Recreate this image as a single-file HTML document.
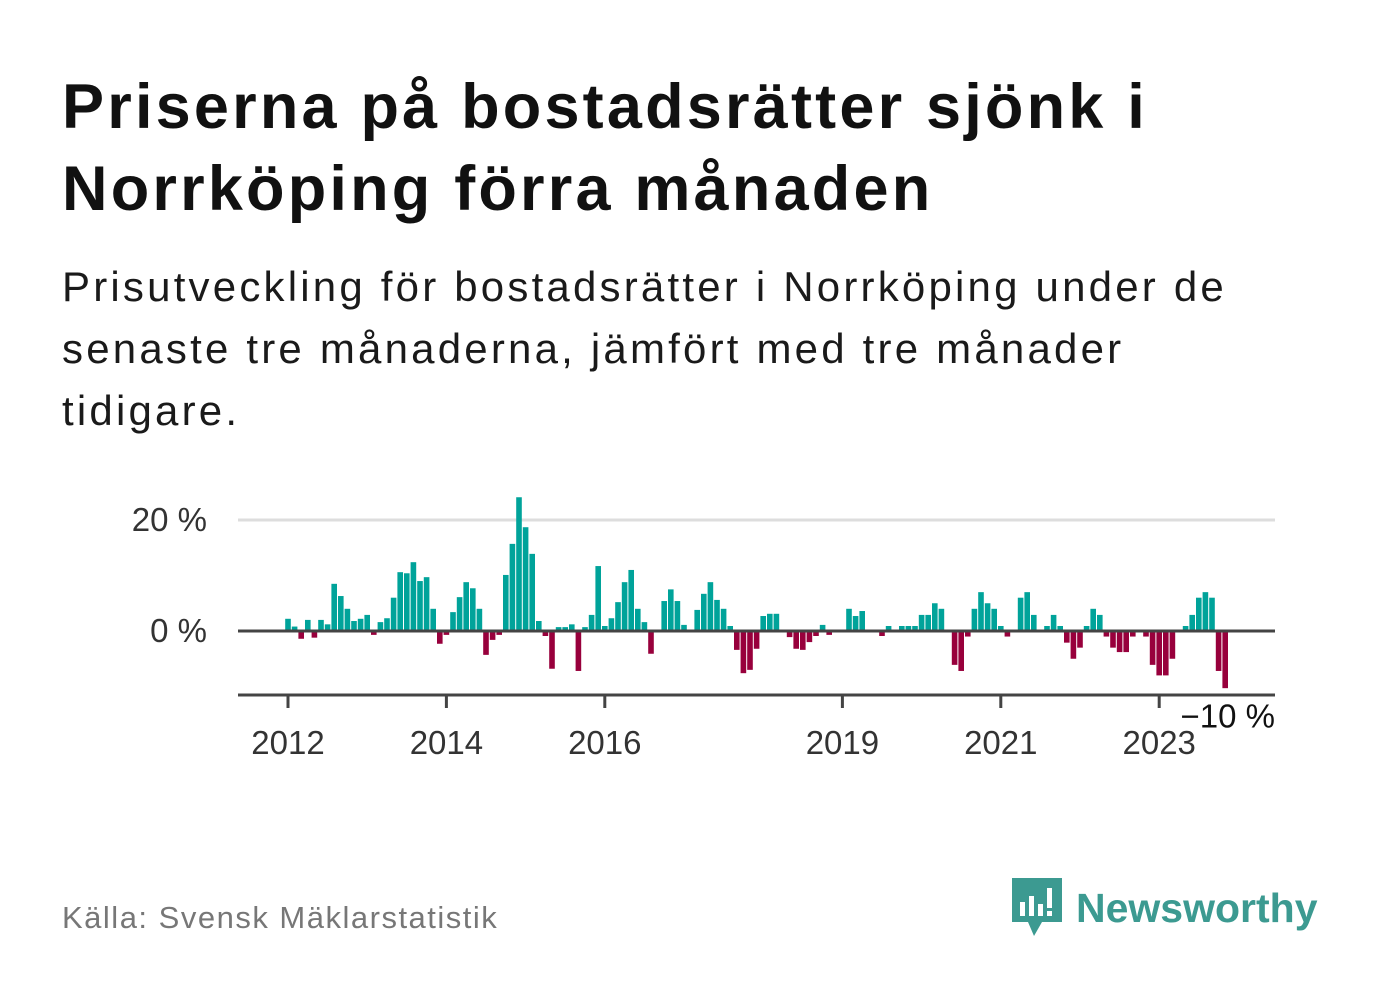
<!DOCTYPE html>
<html><head><meta charset="utf-8"><style>
body{margin:0;width:1382px;height:999px;background:#fff;font-family:"Liberation Sans",sans-serif;overflow:hidden;position:relative}
h1{position:absolute;left:62px;top:66px;margin:0;font-size:63px;line-height:82px;font-weight:bold;color:#111;width:1300px;letter-spacing:3.2px;white-space:nowrap}
.sub{position:absolute;left:62px;top:256px;margin:0;font-size:42px;line-height:62px;color:#1a1a1a;width:1300px;letter-spacing:3.2px;white-space:nowrap}
.src{position:absolute;left:62px;top:900px;font-size:31px;color:#777;letter-spacing:1.5px}
.logo{position:absolute;left:1012px;top:878px;display:flex;align-items:center}
.logo span{font-size:41px;font-weight:bold;color:#3c9a91;margin-left:14px}
</style></head><body>
<h1>Priserna på bostadsrätter sjönk i<br>Norrköping förra månaden</h1>
<p class="sub">Prisutveckling för bostadsrätter i Norrköping under de<br>senaste tre månaderna, jämfört med tre månader<br>tidigare.</p>
<svg id="chart" width="1382" height="999" style="position:absolute;left:0;top:0" font-family="Liberation Sans, sans-serif"></svg>
<div class="src">Källa: Svensk Mäklarstatistik</div>
<div class="logo">
<svg width="50" height="60" viewBox="0 0 50 60"><path d="M0 0H50V44H30L22 58L16 44H0Z" fill="#3c9a91"/><rect x="8" y="24" width="5" height="14" fill="#fff"/><rect x="17" y="18" width="5" height="20" fill="#fff"/><rect x="26" y="26" width="5" height="12" fill="#fff"/><rect x="35" y="10" width="5" height="20" fill="#fff"/><rect x="35" y="33" width="5" height="5" fill="#fff"/></svg>
<span>Newsworthy</span></div>
<script>
const values=[2.2,0.8,-1.4,2.0,-1.2,2.0,1.2,8.5,6.3,4.0,1.8,2.2,2.9,-0.7,1.6,2.3,6.0,10.6,10.4,12.4,9.0,9.7,4.0,-2.3,-0.7,3.4,6.1,8.8,7.7,4.0,-4.3,-1.6,-0.7,10.1,15.7,24.1,18.7,13.9,1.8,-0.9,-6.8,0.7,0.7,1.2,-7.2,0.7,2.9,11.7,
0.9,2.3,5.2,8.8,11.0,4.0,1.6,-4.1,0,5.4,7.5,5.4,1.1,0,3.8,6.7,8.8,5.6,4.0,0.9,-3.4,-7.6,-7.0,-3.2,2.7,3.1,3.1,0,-1.1,-3.2,-3.4,-2.0,-0.9,1.1,-0.7,0,
0,4.0,2.7,3.6,0,0,-0.9,0.9,0,0.9,0.9,0.9,2.9,2.9,5.0,4.0,0,-6.1,-7.2,-1.0,4.0,7.0,5.0,4.0,0.9,-1.0,0,6.0,7.0,2.9,0,0.9,2.9,0.9,-2.1,-5.0,-3.0,0.9,4.0,2.9,-1.0,-3.0,-3.8,-3.8,-1.0,0,-1.0,-6.1,-8.0,-8.0,-5.0,0,0.9,2.9,6.0,7.0,6.0,-7.2,-10.3];
const startYear=2012;
const yTicks=[20,0,-10];
const xTickYears=[2012,2014,2016,2019,2021,2023];
const svg=document.getElementById('chart');
const NS='http://www.w3.org/2000/svg';
const x=i=>288+i*6.6;
const y=v=>631-v*5.55;
function mk(t,a){const e=document.createElementNS(NS,t);for(const k in a)e.setAttribute(k,a[k]);svg.appendChild(e);return e;}
let g=mk('line',{x1:238,x2:1275,y1:y(20),y2:y(20),stroke:'#ddd','stroke-width':3});


values.forEach((v,i)=>{if(v===0)return;
const r=mk('rect',{x:x(i)-2.8,y:Math.min(y(v),y(0)),width:5.6,height:Math.abs(y(v)-y(0)),fill:v>0?'#00a39a':'#98003c'});

});
let z=mk('line',{x1:238,x2:1275,y1:y(0),y2:y(0),stroke:'#444','stroke-width':3});


let ax=mk('line',{x1:238,x2:1275,y1:695,y2:695,stroke:'#444','stroke-width':3});


xTickYears.forEach(yr=>{const px=x((yr-startYear)*12);
const t=mk('line',{x1:px,x2:px,y1:695,y2:708,stroke:'#444','stroke-width':3});


const l=mk('text',{x:px,y:754,'text-anchor':'middle','font-size':33,fill:'#333'});l.textContent=yr;

});
yTicks.forEach(v=>{let l;
if(v===-10){l=mk('text',{x:1275,y:y(v)+41,'text-anchor':'end','font-size':33,fill:'#111',stroke:'#fff','stroke-width':6,'paint-order':'stroke'});}
else l=mk('text',{x:207,y:y(v)+11,'text-anchor':'end','font-size':33,fill:'#333'});
l.textContent=(v<0?'\u2212'+(-v):v)+' %';

});
</script>
</body></html>
